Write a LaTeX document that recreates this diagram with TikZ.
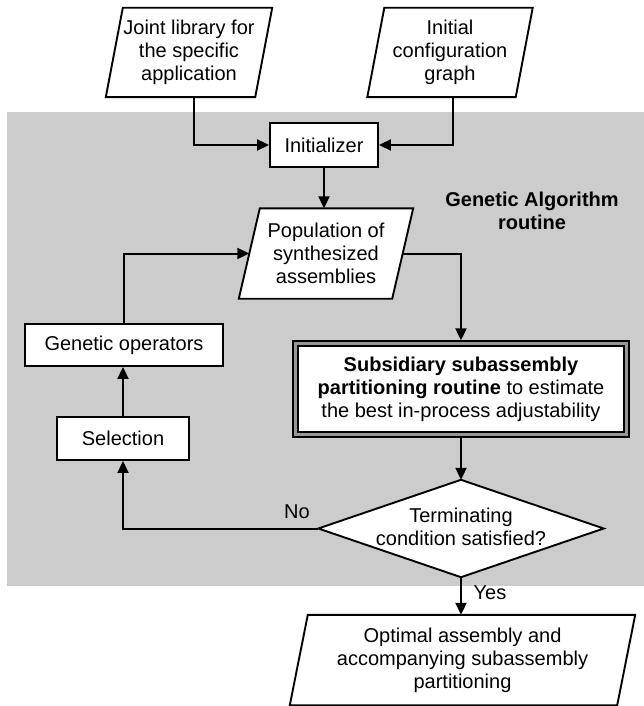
\documentclass[tikz,border=0pt]{standalone}
\usepackage{fontspec}
\setmainfont{Liberation Sans}
\usetikzlibrary{arrows.meta}
\pgfdeclarelayer{graylayer}
\pgfdeclarelayer{shapelayer}
\pgfsetlayers{graylayer,shapelayer,main}
\definecolor{panelgray}{RGB}{204,204,204}
\definecolor{gapgray}{RGB}{150,150,150}
\newcommand\fs{\fontsize{20pt}{23pt}\selectfont}
\newcommand\drawpara[2]{%
  \begin{pgfonlayer}{shapelayer}
  \draw[line width=1.9pt, fill=white, line join=miter]
    ([xshift=#2pt]#1.north west) -- ([xshift=#2pt]#1.north east) --
    ([xshift=-#2pt]#1.south east) -- ([xshift=-#2pt]#1.south west) -- cycle;
  \end{pgfonlayer}}
\tikzset{
  txt/.style={inner sep=0pt, align=center, font=\fs, text=black},
  box/.style={txt, draw=black, line width=1.9pt, fill=white},
  para/.style={txt, draw=none},
  arr/.style={line width=2pt, -{Triangle[length=12pt,width=11pt]}},
}
\begin{document}
\begin{tikzpicture}[x=1pt,y=-1pt]
\useasboundingbox (0,0) rectangle (644,706);
\begin{pgfonlayer}{graylayer}
\fill[panelgray] (7,112) rectangle (644,586);
\end{pgfonlayer}

% top inputs
\node[para, minimum width=149pt, minimum height=89pt] (joint) at (189,52.5)
  {Joint library for\\the specific\\application};
\drawpara{joint}{8.5}
\node[para, minimum width=148pt, minimum height=89pt] (config) at (450,52.5)
  {Initial\\configuration\\graph};
\drawpara{config}{8.5}

\node[box, minimum width=108pt, minimum height=44pt] (init) at (324,145) {Initializer};

\node[para, minimum width=153pt, minimum height=90pt] (pop) at (326,253.5)
  {Population of\\synthesized\\assemblies};
\drawpara{pop}{10.5}

\node[txt, font=\fs\bfseries] (ga) at (532,211) {Genetic Algorithm\\routine};

\node[box, minimum width=198pt, minimum height=42pt] (gen) at (124,345) {Genetic operators};
\node[box, minimum width=132pt, minimum height=43pt] (sel) at (123,438.5) {Selection};

\node[draw=black, line width=1.3pt, fill=gapgray, minimum width=336pt, minimum height=96pt, inner sep=0pt] (sub) at (461,389) {};
\node[txt, draw=black, line width=1.3pt, fill=white, minimum width=326pt, minimum height=86pt] (subin) at (sub.center)
  {\textbf{Subsidiary subassembly}\\\textbf{partitioning routine} to estimate\\the best in-process adjustability};

\node[txt, minimum width=285pt, minimum height=97pt] (dia) at (461,528.5) {};
\begin{pgfonlayer}{shapelayer}
\draw[line width=1.9pt, fill=white] (dia.north) -- (dia.east) -- (dia.south) -- (dia.west) -- cycle;
\end{pgfonlayer}
\node[txt] (diatext) at (461,527) {Terminating\\condition satisfied?};

\node[para, minimum width=327pt, minimum height=90pt] (opt) at (462.5,660)
  {Optimal assembly and\\accompanying subassembly\\partitioning};
\drawpara{opt}{9}

\node[txt] (no) at (297,512) {No};
\node[txt] (yes) at (490,593) {Yes};

% connectors
\draw[arr] ([xshift=5pt]joint.south) |- (init.west);
\draw[arr] ([xshift=3pt]config.south) |- (init.east);
\draw[arr] (init.south) -- (init.south |- pop.north);
\draw[arr] (pop.east) -| (sub.north);
\draw[arr] (sub.south) -- (dia.north);
\draw[arr] (dia.west) -| (sel.south);
\draw[arr] (sel.north) -- (sel.north |- gen.south);
\draw[arr] (gen.north) |- (pop.west);
\draw[arr] (dia.south) -- (dia.south |- opt.north);
\end{tikzpicture}
\end{document}
